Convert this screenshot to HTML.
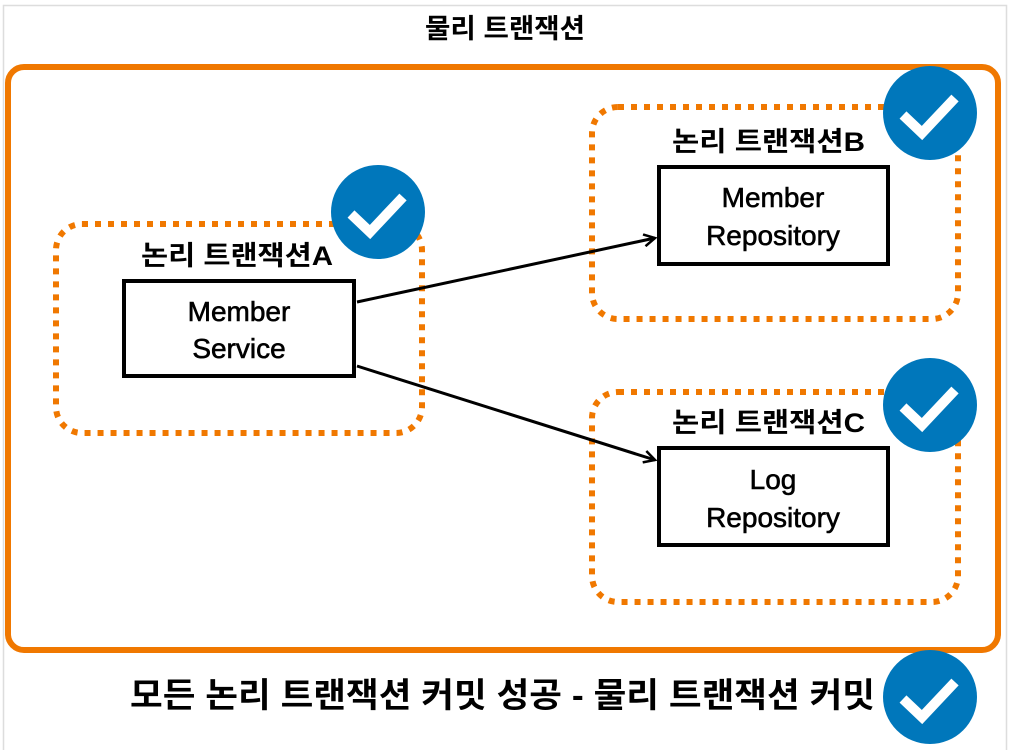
<!DOCTYPE html>
<html><head><meta charset="utf-8"><style>
html,body{margin:0;padding:0;background:#fff;}
svg{display:block;}
text{font-family:"Liberation Sans","Noto Sans CJK KR",sans-serif;font-weight:bold;fill:#000;}
.t{font-weight:normal;stroke:#000;stroke-width:0.6;}
</style></head><body>
<svg width="1010" height="750" viewBox="0 0 1010 750" xmlns="http://www.w3.org/2000/svg">
<defs>
<marker id="ah" markerWidth="14" markerHeight="14" refX="12" refY="7" orient="auto" markerUnits="userSpaceOnUse">
<path d="M1,1 L12,7 L1,13" fill="none" stroke="#000" stroke-width="2.5"/>
</marker>
<g id="chk"><circle r="47" fill="#0077bb"/><path d="M-27,2 L-8,20 L25,-15" fill="none" stroke="#fff" stroke-width="10"/></g>
</defs>
<rect x="3.5" y="5.5" width="1003" height="750" fill="none" stroke="#ddd" stroke-width="1.5"/>
<text x="425" y="38" font-size="27" textLength="160" lengthAdjust="spacingAndGlyphs">물리 트랜잭션</text>
<rect x="8" y="67" width="990" height="583" rx="16" fill="none" stroke="#f07800" stroke-width="6"/>
<g fill="none" stroke="#f07800" stroke-width="6" stroke-dasharray="6 7">
<rect x="56" y="224" width="366" height="209" rx="26"/>
<rect x="592" y="107" width="366" height="212" rx="26"/>
<rect x="592" y="392" width="366" height="210" rx="26"/>
</g>
<g fill="#fff" stroke="#000" stroke-width="4">
<rect x="124" y="281" width="230" height="95"/>
<rect x="659" y="167" width="229" height="97"/>
<rect x="659" y="448" width="229" height="97"/>
</g>
<text x="141" y="265" font-size="27" textLength="192" lengthAdjust="spacingAndGlyphs">논리 트랜잭션A</text>
<text x="672" y="151" font-size="27" textLength="193" lengthAdjust="spacingAndGlyphs">논리 트랜잭션B</text>
<text x="672" y="432" font-size="27" textLength="193" lengthAdjust="spacingAndGlyphs">논리 트랜잭션C</text>
<g font-size="28" text-anchor="middle">
<text class="t" x="239" y="321">Member</text>
<text class="t" x="239" y="358">Service</text>
<text class="t" x="773" y="207">Member</text>
<text class="t" x="773" y="245">Repository</text>
<text class="t" x="773" y="489">Log</text>
<text class="t" x="773" y="527">Repository</text>
</g>
<line x1="357" y1="302" x2="655" y2="238" stroke="#000" stroke-width="3" marker-end="url(#ah)"/>
<line x1="357" y1="366" x2="655" y2="460" stroke="#000" stroke-width="3" marker-end="url(#ah)"/>
<use href="#chk" x="378" y="212"/>
<use href="#chk" x="930" y="113"/>
<use href="#chk" x="930" y="405"/>
<use href="#chk" x="930" y="697"/>
<text x="130" y="707" font-size="34" textLength="745" lengthAdjust="spacingAndGlyphs">모든 논리 트랜잭션 커밋 성공 - 물리 트랜잭션 커밋</text>
</svg>
</body></html>
